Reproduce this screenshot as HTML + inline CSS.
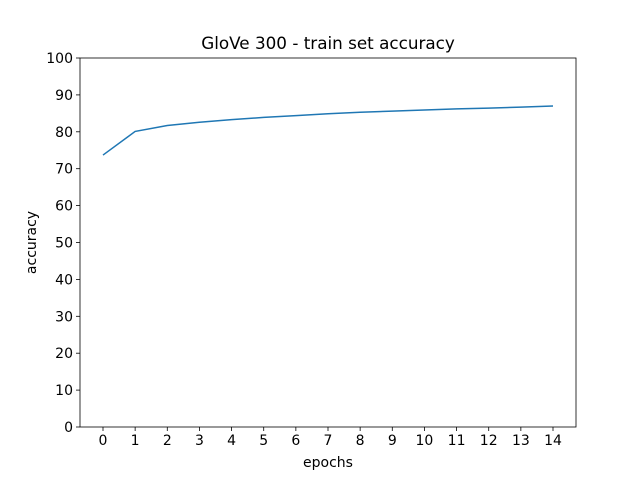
<!DOCTYPE html>
<html><head><meta charset="utf-8"><style>
body{margin:0;background:#fff;}
svg text{font-family:"DejaVu Sans","Liberation Sans",sans-serif;fill:#000;}
</style></head><body>
<svg id="chart" width="640" height="480" viewBox="0 0 640 480">
<rect width="640" height="480" fill="#fff"/>
<text x="328" y="49" font-size="16.8" text-anchor="middle">GloVe 300 - train set accuracy</text>
<g id="axes"></g>
<text x="328" y="467" font-size="14" text-anchor="middle">epochs</text>
<text x="0" y="0" font-size="14" text-anchor="middle" transform="translate(36,242.5) rotate(-90)">accuracy</text>
</svg>
<script>
const epochs=[0,1,2,3,4,5,6,7,8,9,10,11,12,13,14];
const accuracy=[73.7,80.1,81.7,82.6,83.3,83.9,84.4,84.9,85.3,85.6,85.9,86.2,86.4,86.7,87.0];
const yTicks=[0,10,20,30,40,50,60,70,80,90,100];
const L=80,R=576,T=58,B=427;
const xs=v=>103+(v-0)*(553-103)/14;
const ys=v=>B-(v/100)*(B-T);
const ns="http://www.w3.org/2000/svg";
const g=document.getElementById('axes');
function mk(t,a){const e=document.createElementNS(ns,t);for(const k in a)e.setAttribute(k,a[k]);g.appendChild(e);return e;}
epochs.forEach(v=>{
 const t=mk('line',{x1:xs(v),x2:xs(v),y1:B,y2:B+4,stroke:'#000','stroke-width':0.8});
 
 
 const l=mk('text',{x:xs(v),y:B+18,'font-size':14,'text-anchor':'middle'});l.textContent=v;
 
 
});
yTicks.forEach(v=>{
 const t=mk('line',{x1:L-4,x2:L,y1:ys(v),y2:ys(v),stroke:'#000','stroke-width':0.8});
 
 
 const l=mk('text',{x:L-7,y:ys(v)+5,'font-size':14,'text-anchor':'end'});l.textContent=v;
 
 
});
const p=mk('polyline',{points:epochs.map((e,i)=>xs(e)+','+ys(accuracy[i])).join(' '),fill:'none',stroke:'#1f77b4','stroke-width':1.5});


const f=mk('rect',{x:L,y:T,width:R-L,height:B-T,fill:'none',stroke:'#000','stroke-width':0.8});


</script>
</body></html>
